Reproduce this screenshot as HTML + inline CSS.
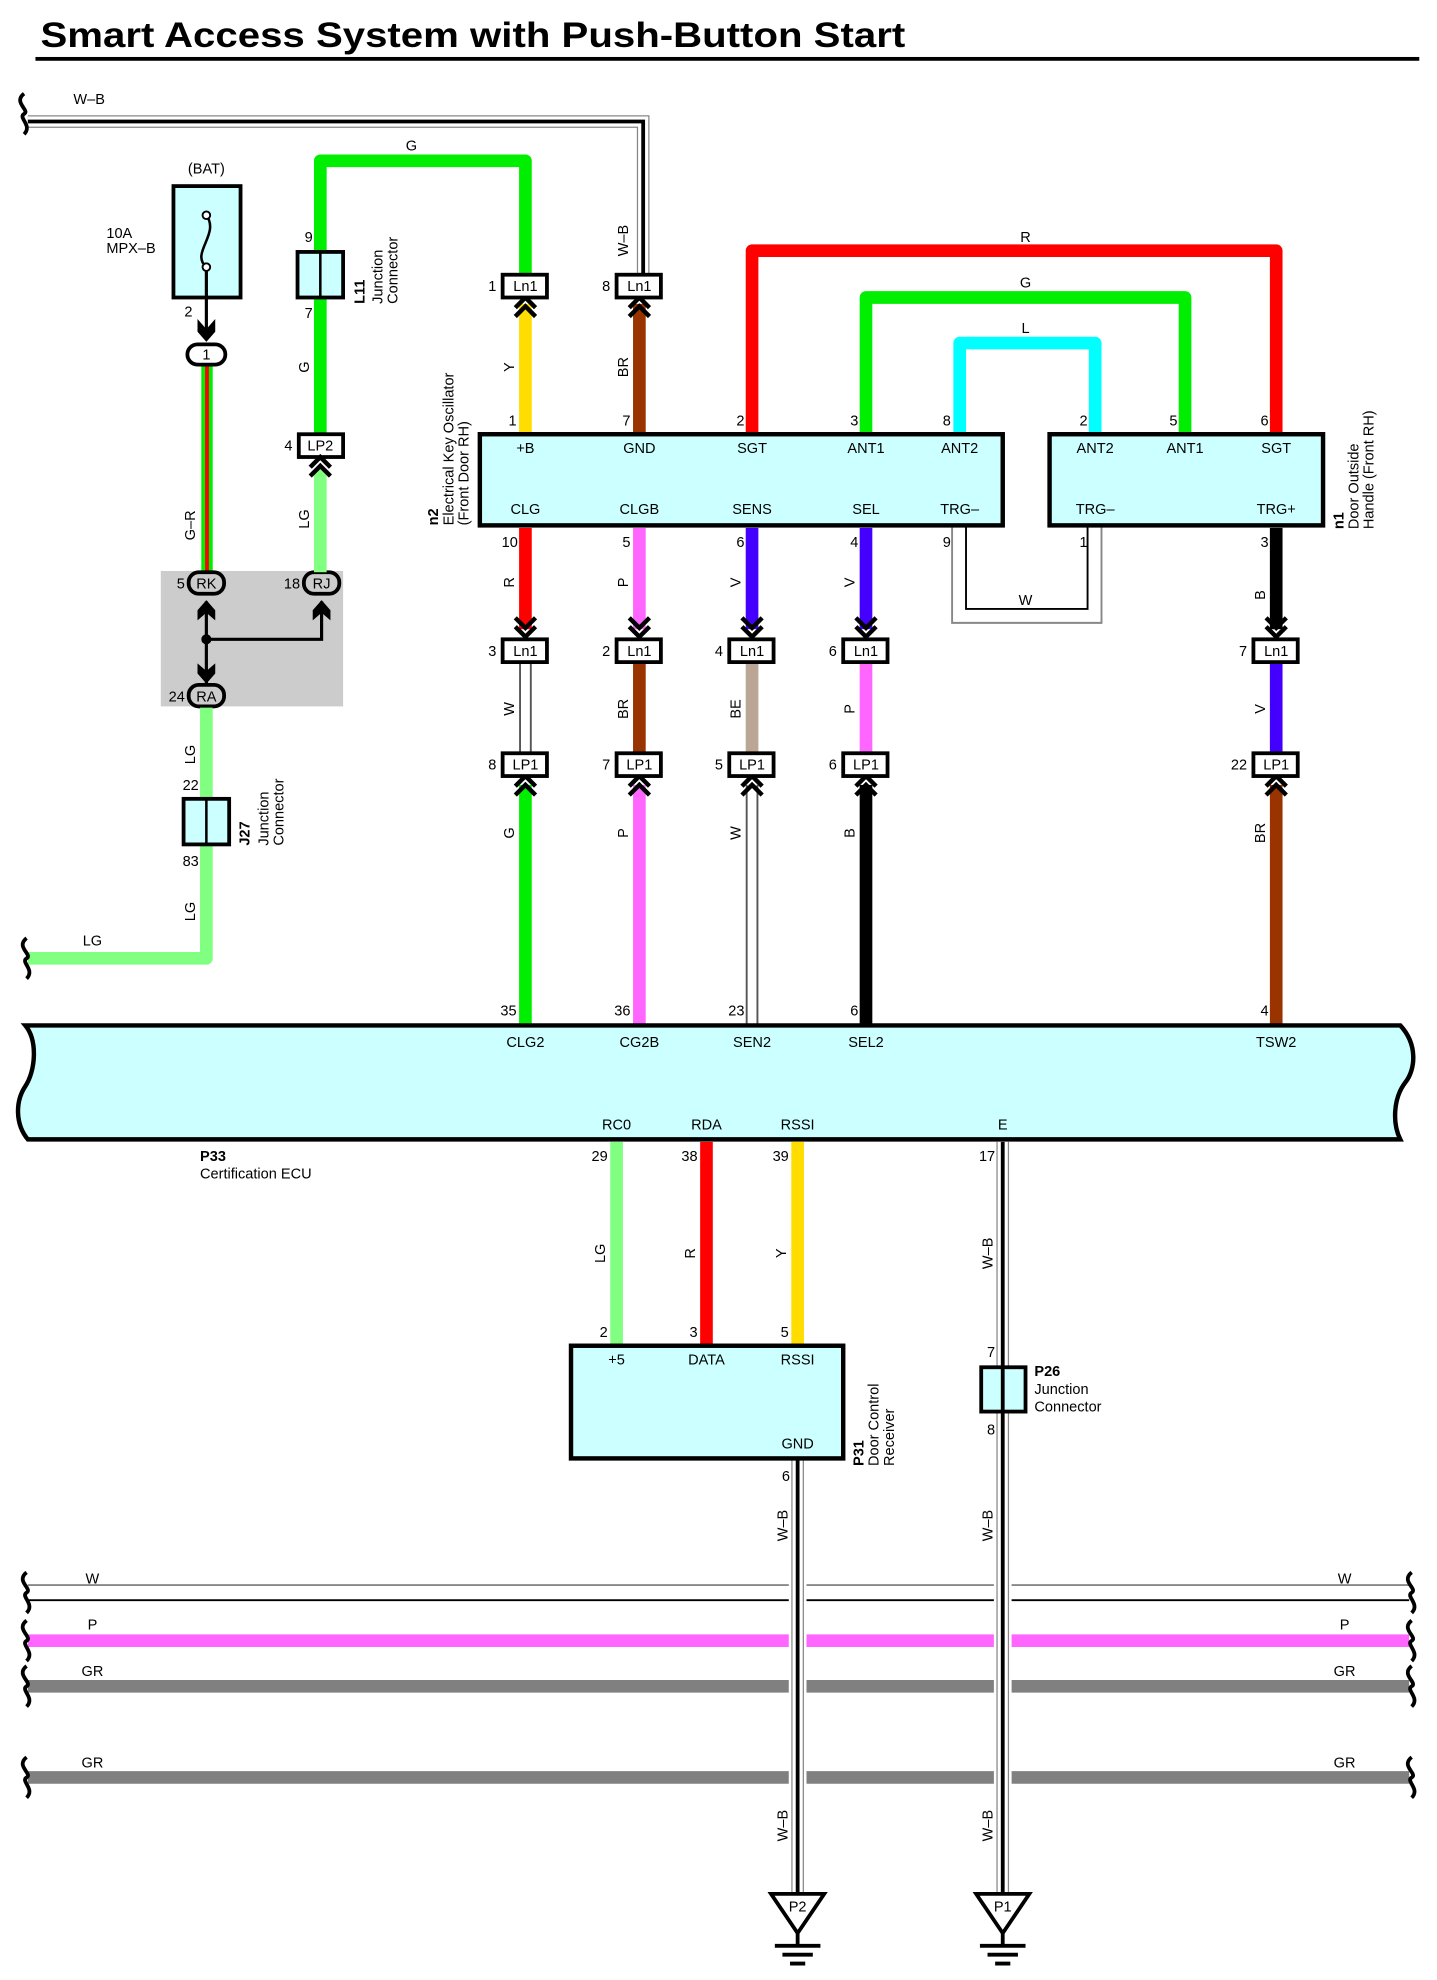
<!DOCTYPE html>
<html><head><meta charset="utf-8"><style>
html,body{margin:0;padding:0;background:#fff}
svg{display:block}
text{font-family:"Liberation Sans",sans-serif;font-size:11.5px;fill:#000}
.b{font-weight:bold}
.m{text-anchor:middle}
.e{text-anchor:end}
</style></head><body>
<svg width="1437" height="1980" viewBox="0 0 1135 1564" preserveAspectRatio="none" xmlns="http://www.w3.org/2000/svg">
<defs>
<path id="sq" d="M0,-16 C-9,-9 5,-3 0,0 C-5,3 7,9 0,16" fill="none" stroke="#000" stroke-width="3"/>
<path id="cd" d="M-8,-14 L0,-6 L8,-14 M-8,-7 L0,1 L8,-7" fill="none" stroke="#000" stroke-width="3.5"/>
<path id="cu" d="M-8,14 L0,6 L8,14 M-8,7 L0,-1 L8,7" fill="none" stroke="#000" stroke-width="3.5"/>
</defs>

<!-- title -->
<text x="32" y="37" class="b" style="font-size:28px" textLength="683" lengthAdjust="spacingAndGlyphs">Smart Access System with Push-Button Start</text>
<rect x="28" y="45" width="1093" height="3" fill="#000"/>

<!-- top W-B wire -->
<path d="M22,96 H508 V218" fill="none" stroke="#888" stroke-width="10"/>
<path d="M22,96 H508 V218" fill="none" stroke="#fff" stroke-width="8"/>
<path d="M22,96 H508 V218" fill="none" stroke="#000" stroke-width="3"/>
<use href="#sq" x="19" y="90"/>
<text x="58" y="82">W–B</text>

<!-- fuse -->
<text x="163" y="137" class="m">(BAT)</text>
<rect x="137" y="147" width="53" height="88" fill="#ccffff" stroke="#000" stroke-width="3"/>
<path d="M163,211 C150,200 174,185 163,170" fill="none" stroke="#000" stroke-width="2"/>
<circle cx="163" cy="170" r="3" fill="#fff" stroke="#000" stroke-width="1.5"/>
<circle cx="163" cy="211" r="3" fill="#fff" stroke="#000" stroke-width="1.5"/>
<text x="84" y="188">10A</text><text x="84" y="200">MPX–B</text>
<line x1="163" y1="214" x2="163" y2="262" stroke="#000" stroke-width="2.5"/>
<path d="M156,252 L163,260 L170,252 L170,262 L163,270 L156,262 Z" fill="#000"/>
<text x="152" y="250" class="e">2</text>
<!-- G-R wire -->
<rect x="159" y="288" width="9" height="170" fill="#00ee00"/>
<rect x="162" y="288" width="3" height="170" fill="#ff0000"/>
<rect x="148" y="272" width="30" height="16" rx="8" fill="#fff" stroke="#000" stroke-width="3"/>
<text x="163" y="284" class="m">1</text>
<text transform="translate(154,415) rotate(-90)" class="m">G–R</text>

<!-- gray box -->
<rect x="127" y="451" width="144" height="107" fill="#cccccc"/>
<line x1="163" y1="475" x2="163" y2="540" stroke="#000" stroke-width="2.5"/>
<polyline points="163,505 254,505 254,475" fill="none" stroke="#000" stroke-width="2.5"/>
<circle cx="163" cy="505" r="4" fill="#000"/>
<path d="M156,482 L163,474 L170,482 L170,490 L163,484 L156,490 Z" fill="#000"/>
<path d="M247,482 L254,474 L261,482 L261,490 L254,484 L247,490 Z" fill="#000"/>
<path d="M156,532 L163,540 L170,532 L170,524 L163,530 L156,524 Z" fill="#000"/>
<rect x="149" y="452" width="28" height="17" rx="8" fill="#ccc" stroke="#000" stroke-width="3"/>
<text x="163" y="465" class="m">RK</text><text x="146" y="465" class="e">5</text>
<rect x="240" y="452" width="28" height="17" rx="8" fill="#ccc" stroke="#000" stroke-width="3"/>
<text x="254" y="465" class="m">RJ</text><text x="237" y="465" class="e">18</text>
<rect x="149" y="541" width="28" height="17" rx="8" fill="#ccc" stroke="#000" stroke-width="3"/>
<text x="163" y="554" class="m">RA</text><text x="146" y="554" class="e">24</text>

<!-- LG to J27 -->
<path d="M163,559 V757 H22" fill="none" stroke="#80ff80" stroke-width="10" stroke-linejoin="round"/>
<use href="#sq" x="21" y="757"/>
<rect x="145" y="631" width="36" height="36" fill="#ccffff" stroke="#000" stroke-width="3"/>
<line x1="163" y1="631" x2="163" y2="667" stroke="#000" stroke-width="2"/>
<text x="157" y="624" class="e">22</text><text x="157" y="684" class="e">83</text>
<text transform="translate(154,596) rotate(-90)" class="m">LG</text>
<text transform="translate(154,720) rotate(-90)" class="m">LG</text>
<text x="73" y="747" class="m">LG</text>
<text transform="translate(197,668) rotate(-90)" class="b">J27</text>
<text transform="translate(212,668) rotate(-90)">Junction</text>
<text transform="translate(224,668) rotate(-90)">Connector</text>

<!-- L11 G wire -->
<path d="M253,343 V127 H415 V218" fill="none" stroke="#00ee00" stroke-width="10" stroke-linejoin="round"/>
<rect x="235" y="199" width="36" height="36" fill="#ccffff" stroke="#000" stroke-width="3"/>
<line x1="253" y1="199" x2="253" y2="235" stroke="#000" stroke-width="2"/>
<text x="247" y="191" class="e">9</text><text x="247" y="251" class="e">7</text>
<text x="325" y="119" class="m">G</text>
<text transform="translate(244,290) rotate(-90)" class="m">G</text>
<text transform="translate(288,240) rotate(-90)" class="b">L11</text>
<text transform="translate(302,240) rotate(-90)">Junction</text>
<text transform="translate(314,240) rotate(-90)">Connector</text>
<rect x="248" y="370" width="10" height="82" fill="#80ff80"/>
<rect x="236" y="343" width="35" height="18" fill="#fff" stroke="#000" stroke-width="3"/>
<text x="253" y="356" class="m">LP2</text><text x="231" y="356" class="e">4</text>
<use href="#cu" x="253" y="362"/>
<text transform="translate(244,410) rotate(-90)" class="m">LG</text>

<!-- wires above n2 -->
<rect x="410" y="240" width="10" height="104" fill="#ffdd00"/>
<rect x="500" y="240" width="10" height="104" fill="#993300"/>
<text transform="translate(406,290) rotate(-90)" class="m">Y</text>
<text transform="translate(496,290) rotate(-90)" class="m">BR</text>
<text transform="translate(496,190) rotate(-90)" class="m">W–B</text>
<use href="#cu" x="415" y="236"/><use href="#cu" x="505" y="236"/>
<rect x="397" y="217" width="35" height="18" fill="#fff" stroke="#000" stroke-width="3"/>
<text x="415" y="230" class="m">Ln1</text><text x="392" y="230" class="e">1</text>
<rect x="487" y="217" width="35" height="18" fill="#fff" stroke="#000" stroke-width="3"/>
<text x="505" y="230" class="m">Ln1</text><text x="482" y="230" class="e">8</text>

<!-- loops R G L -->
<path d="M594,344 V198 H1008 V344" fill="none" stroke="#ff0000" stroke-width="10" stroke-linejoin="round"/>
<path d="M684,344 V235 H936 V344" fill="none" stroke="#00ee00" stroke-width="10" stroke-linejoin="round"/>
<path d="M758,344 V271 H865 V344" fill="none" stroke="#00ffff" stroke-width="10" stroke-linejoin="round"/>
<text x="810" y="191" class="m">R</text>
<text x="810" y="227" class="m">G</text>
<text x="810" y="263" class="m">L</text>
<!-- W loop -->
<path d="M752,415 V492 H870 V415" fill="none" stroke="#888" stroke-width="1.5"/>
<path d="M763,415 V481 H859 V415" fill="none" stroke="#000" stroke-width="1.5"/>
<text x="810" y="478" class="m">W</text>

<!-- n2 box -->
<rect x="379" y="343" width="413" height="72" fill="#ccffff" stroke="#000" stroke-width="3.5"/>
<text x="415" y="358" class="m">+B</text><text x="505" y="358" class="m">GND</text><text x="594" y="358" class="m">SGT</text><text x="684" y="358" class="m">ANT1</text><text x="758" y="358" class="m">ANT2</text>
<text x="415" y="406" class="m">CLG</text><text x="505" y="406" class="m">CLGB</text><text x="594" y="406" class="m">SENS</text><text x="684" y="406" class="m">SEL</text><text x="758" y="406" class="m">TRG–</text>
<text x="408" y="336" class="e">1</text><text x="498" y="336" class="e">7</text><text x="588" y="336" class="e">2</text><text x="678" y="336" class="e">3</text><text x="751" y="336" class="e">8</text>
<text x="409" y="432" class="e">10</text><text x="498" y="432" class="e">5</text><text x="588" y="432" class="e">6</text><text x="678" y="432" class="e">4</text><text x="751" y="432" class="e">9</text>
<text transform="translate(346,415) rotate(-90)" class="b">n2</text>
<text transform="translate(358,415) rotate(-90)">Electrical Key Oscillator</text>
<text transform="translate(370,415) rotate(-90)">(Front Door RH)</text>

<!-- n1 box -->
<rect x="829" y="343" width="216" height="72" fill="#ccffff" stroke="#000" stroke-width="3.5"/>
<text x="865" y="358" class="m">ANT2</text><text x="936" y="358" class="m">ANT1</text><text x="1008" y="358" class="m">SGT</text>
<text x="865" y="406" class="m">TRG–</text><text x="1008" y="406" class="m">TRG+</text>
<text x="859" y="336" class="e">2</text><text x="930" y="336" class="e">5</text><text x="1002" y="336" class="e">6</text>
<text x="859" y="432" class="e">1</text><text x="1002" y="432" class="e">3</text>
<text transform="translate(1061,418) rotate(-90)" class="b">n1</text>
<text transform="translate(1073,418) rotate(-90)">Door Outside</text>
<text transform="translate(1085,418) rotate(-90)">Handle (Front RH)</text>

<!-- below n2 to Ln1 -->
<rect x="410" y="417" width="10" height="80" fill="#ff0000"/>
<rect x="500" y="417" width="10" height="80" fill="#ff66ff"/>
<rect x="589" y="417" width="10" height="80" fill="#4400ff"/>
<rect x="679" y="417" width="10" height="80" fill="#4400ff"/>
<rect x="1003" y="417" width="10" height="80" fill="#000"/>
<text transform="translate(406,460) rotate(-90)" class="m">R</text>
<text transform="translate(496,460) rotate(-90)" class="m">P</text>
<text transform="translate(585,460) rotate(-90)" class="m">V</text>
<text transform="translate(675,460) rotate(-90)" class="m">V</text>
<text transform="translate(999,470) rotate(-90)" class="m">B</text>
<use href="#cd" x="415" y="502"/><use href="#cd" x="505" y="502"/><use href="#cd" x="594" y="502"/><use href="#cd" x="684" y="502"/><use href="#cd" x="1008" y="502"/>

<!-- Ln1 to LP1 -->
<path d="M415,523 V596" stroke="#555" stroke-width="10"/><path d="M415,523 V596" stroke="#fff" stroke-width="7"/>
<rect x="500" y="523" width="10" height="73" fill="#993300"/>
<rect x="589" y="523" width="10" height="73" fill="#bba595"/>
<rect x="679" y="523" width="10" height="73" fill="#ff66ff"/>
<rect x="1003" y="523" width="10" height="73" fill="#4400ff"/>
<text transform="translate(406,560) rotate(-90)" class="m">W</text>
<text transform="translate(496,560) rotate(-90)" class="m">BR</text>
<text transform="translate(585,560) rotate(-90)" class="m">BE</text>
<text transform="translate(675,560) rotate(-90)" class="m">P</text>
<text transform="translate(999,560) rotate(-90)" class="m">V</text>

<g>
<rect x="397" y="505" width="35" height="18" fill="#fff" stroke="#000" stroke-width="3"/><text x="415" y="518" class="m">Ln1</text><text x="392" y="518" class="e">3</text>
<rect x="487" y="505" width="35" height="18" fill="#fff" stroke="#000" stroke-width="3"/><text x="505" y="518" class="m">Ln1</text><text x="482" y="518" class="e">2</text>
<rect x="576" y="505" width="35" height="18" fill="#fff" stroke="#000" stroke-width="3"/><text x="594" y="518" class="m">Ln1</text><text x="571" y="518" class="e">4</text>
<rect x="666" y="505" width="35" height="18" fill="#fff" stroke="#000" stroke-width="3"/><text x="684" y="518" class="m">Ln1</text><text x="661" y="518" class="e">6</text>
<rect x="990" y="505" width="35" height="18" fill="#fff" stroke="#000" stroke-width="3"/><text x="1008" y="518" class="m">Ln1</text><text x="985" y="518" class="e">7</text>
</g>

<!-- LP1 to ECU -->
<rect x="410" y="620" width="10" height="191" fill="#00ee00"/>
<rect x="500" y="620" width="10" height="191" fill="#ff66ff"/>
<path d="M594,620 V811" stroke="#555" stroke-width="10"/><path d="M594,620 V811" stroke="#fff" stroke-width="7"/>
<rect x="679" y="620" width="10" height="191" fill="#000"/>
<rect x="1003" y="620" width="10" height="191" fill="#993300"/>
<text transform="translate(406,658) rotate(-90)" class="m">G</text>
<text transform="translate(496,658) rotate(-90)" class="m">P</text>
<text transform="translate(585,658) rotate(-90)" class="m">W</text>
<text transform="translate(675,658) rotate(-90)" class="m">B</text>
<text transform="translate(999,658) rotate(-90)" class="m">BR</text>
<use href="#cu" x="415" y="614"/><use href="#cu" x="505" y="614"/><use href="#cu" x="594" y="614"/><use href="#cu" x="684" y="614"/><use href="#cu" x="1008" y="614"/>
<g>
<rect x="397" y="595" width="35" height="18" fill="#fff" stroke="#000" stroke-width="3"/><text x="415" y="608" class="m">LP1</text><text x="392" y="608" class="e">8</text>
<rect x="487" y="595" width="35" height="18" fill="#fff" stroke="#000" stroke-width="3"/><text x="505" y="608" class="m">LP1</text><text x="482" y="608" class="e">7</text>
<rect x="576" y="595" width="35" height="18" fill="#fff" stroke="#000" stroke-width="3"/><text x="594" y="608" class="m">LP1</text><text x="571" y="608" class="e">5</text>
<rect x="666" y="595" width="35" height="18" fill="#fff" stroke="#000" stroke-width="3"/><text x="684" y="608" class="m">LP1</text><text x="661" y="608" class="e">6</text>
<rect x="990" y="595" width="35" height="18" fill="#fff" stroke="#000" stroke-width="3"/><text x="1008" y="608" class="m">LP1</text><text x="985" y="608" class="e">22</text>
</g>

<!-- ECU -->
<path d="M20,810 H1106 C1120,825 1118,845 1110,855 C1100,868 1100,888 1106,900 H22 C12,888 12,870 20,858 C28,846 30,822 20,810 Z" fill="#ccffff" stroke="#000" stroke-width="3.5"/>
<text x="408" y="802" class="e">35</text><text x="498" y="802" class="e">36</text><text x="588" y="802" class="e">23</text><text x="678" y="802" class="e">6</text><text x="1002" y="802" class="e">4</text>
<text x="415" y="827" class="m">CLG2</text><text x="505" y="827" class="m">CG2B</text><text x="594" y="827" class="m">SEN2</text><text x="684" y="827" class="m">SEL2</text><text x="1008" y="827" class="m">TSW2</text>
<text x="487" y="892" class="m">RC0</text><text x="558" y="892" class="m">RDA</text><text x="630" y="892" class="m">RSSI</text><text x="792" y="892" class="m">E</text>
<text x="158" y="917" class="b">P33</text><text x="158" y="931">Certification ECU</text>

<!-- below ECU -->
<rect x="482" y="902" width="10" height="162" fill="#80ff80"/>
<rect x="553" y="902" width="10" height="162" fill="#ff0000"/>
<rect x="625" y="902" width="10" height="162" fill="#ffdd00"/>
<text x="480" y="917" class="e">29</text><text x="551" y="917" class="e">38</text><text x="623" y="917" class="e">39</text><text x="786" y="917" class="e">17</text>
<text transform="translate(478,990) rotate(-90)" class="m">LG</text>
<text transform="translate(549,990) rotate(-90)" class="m">R</text>
<text transform="translate(621,990) rotate(-90)" class="m">Y</text>
<text x="480" y="1056" class="e">2</text><text x="551" y="1056" class="e">3</text><text x="623" y="1056" class="e">5</text>

<!-- bus lines -->
<line x1="22" y1="1252" x2="1113" y2="1252" stroke="#888" stroke-width="1.5"/>
<line x1="22" y1="1264" x2="1113" y2="1264" stroke="#000" stroke-width="1.5"/>
<line x1="22" y1="1296" x2="1113" y2="1296" stroke="#ff66ff" stroke-width="10"/>
<line x1="22" y1="1332" x2="1113" y2="1332" stroke="#808080" stroke-width="10"/>
<line x1="22" y1="1404" x2="1113" y2="1404" stroke="#808080" stroke-width="10"/>
<use href="#sq" x="21" y="1258"/><use href="#sq" x="21" y="1296"/><use href="#sq" x="21" y="1332"/><use href="#sq" x="21" y="1404"/>
<use href="#sq" x="1115" y="1258"/><use href="#sq" x="1115" y="1296"/><use href="#sq" x="1115" y="1332"/><use href="#sq" x="1115" y="1404"/>
<text x="73" y="1251" class="m">W</text><text x="73" y="1287" class="m">P</text><text x="73" y="1324" class="m">GR</text><text x="73" y="1396" class="m">GR</text>
<text x="1062" y="1251" class="m">W</text><text x="1062" y="1287" class="m">P</text><text x="1062" y="1324" class="m">GR</text><text x="1062" y="1396" class="m">GR</text>

<!-- W-B verticals with white gaps -->
<rect x="623" y="1240" width="14" height="175" fill="#fff"/>
<rect x="785" y="1240" width="14" height="175" fill="#fff"/>
<path d="M630,1152 V1496" stroke="#888" stroke-width="10"/><path d="M630,1152 V1496" stroke="#fff" stroke-width="8"/><path d="M630,1152 V1496" stroke="#000" stroke-width="3"/>
<path d="M792,902 V1496" stroke="#888" stroke-width="10"/><path d="M792,902 V1496" stroke="#fff" stroke-width="8"/><path d="M792,902 V1496" stroke="#000" stroke-width="3"/>
<text transform="translate(622,1205) rotate(-90)" class="m">W–B</text>
<text transform="translate(784,990) rotate(-90)" class="m">W–B</text>
<text transform="translate(784,1205) rotate(-90)" class="m">W–B</text>
<text transform="translate(622,1442) rotate(-90)" class="m">W–B</text>
<text transform="translate(784,1442) rotate(-90)" class="m">W–B</text>

<!-- P31 -->
<rect x="451" y="1063" width="215" height="89" fill="#ccffff" stroke="#000" stroke-width="3.5"/>
<text x="487" y="1078" class="m">+5</text><text x="558" y="1078" class="m">DATA</text><text x="630" y="1078" class="m">RSSI</text>
<text x="630" y="1144" class="m">GND</text>
<text x="624" y="1170" class="e">6</text>
<text transform="translate(682,1158) rotate(-90)" class="b">P31</text>
<text transform="translate(694,1158) rotate(-90)">Door Control</text>
<text transform="translate(706,1158) rotate(-90)">Receiver</text>

<!-- P26 -->
<rect x="775" y="1080" width="35" height="35" fill="#ccffff" stroke="#000" stroke-width="3"/>
<path d="M792,1080 V1115" stroke="#000" stroke-width="3"/>
<text x="786" y="1072" class="e">7</text><text x="786" y="1133" class="e">8</text>
<text x="817" y="1087" class="b">P26</text><text x="817" y="1101">Junction</text><text x="817" y="1115">Connector</text>

<!-- grounds -->
<g fill="none" stroke="#000" stroke-width="3">
<path d="M609,1496 H651 L630,1527 Z" fill="#fff"/>
<path d="M630,1527 V1537 M612,1537 H648 M618,1544 H642 M624,1551 H636"/>
<path d="M771,1496 H813 L792,1527 Z" fill="#fff"/>
<path d="M792,1527 V1537 M774,1537 H810 M780,1544 H804 M786,1551 H798"/>
</g>
<text x="630" y="1510" class="m">P2</text>
<text x="792" y="1510" class="m">P1</text>
</svg>
</body></html>
